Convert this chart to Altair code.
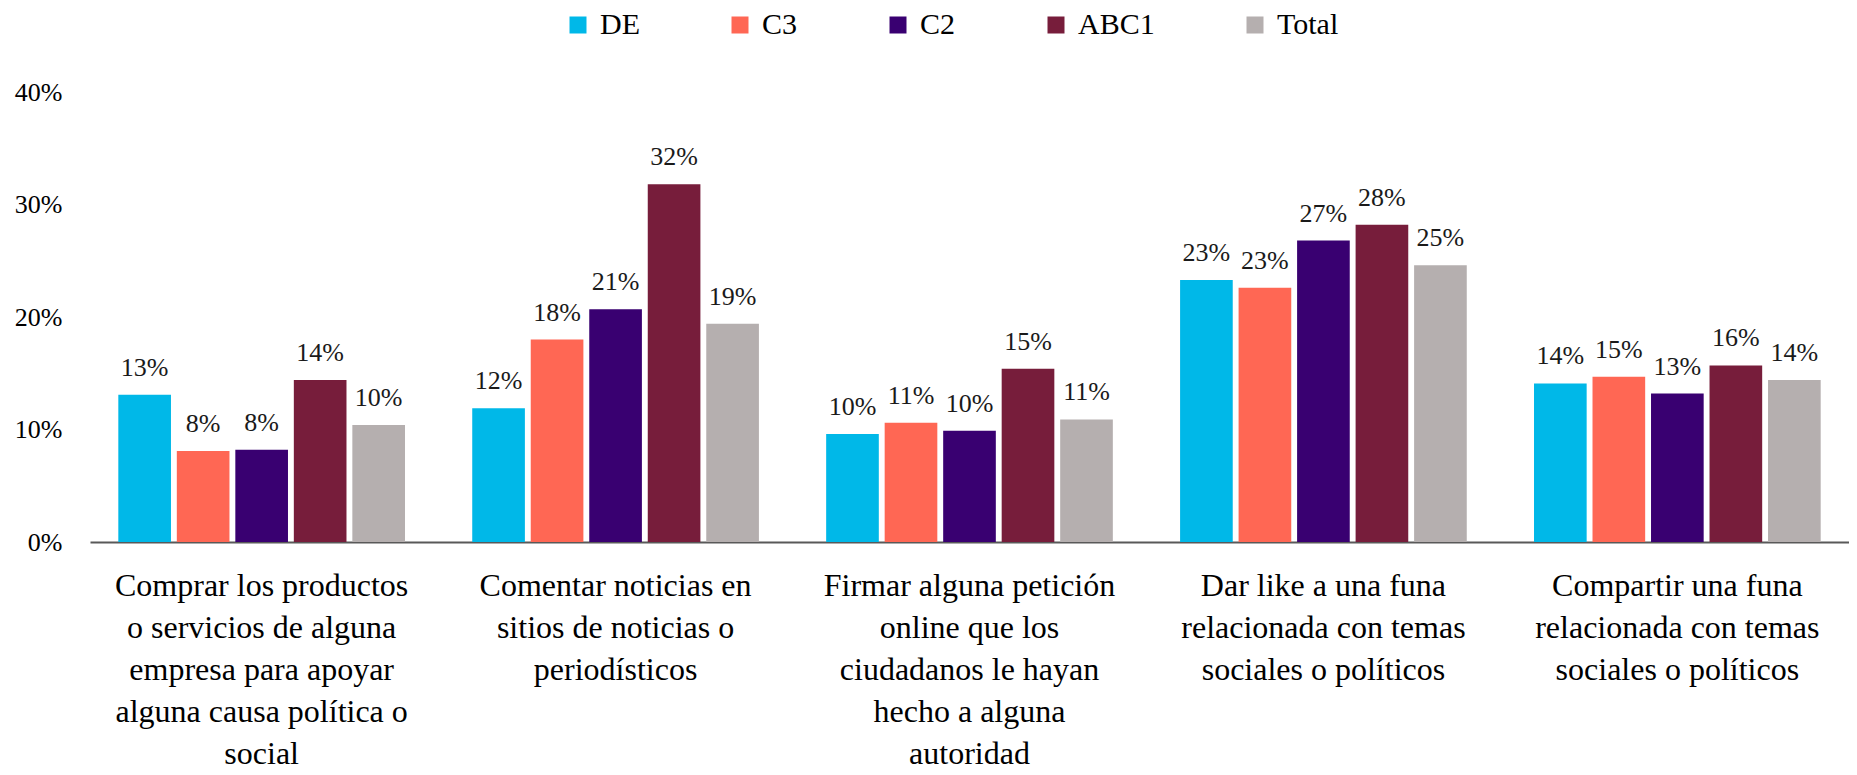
import altair as alt
import pandas as pd

categories = [
    "Comprar los productos|o servicios de alguna|empresa para apoyar|alguna causa política o|social",
    "Comentar noticias en|sitios de noticias o|periodísticos",
    "Firmar alguna petición|online que los|ciudadanos le hayan|hecho a alguna|autoridad",
    "Dar like a una funa|relacionada con temas|sociales o políticos",
    "Compartir una funa|relacionada con temas|sociales o políticos",
]
series = ["DE", "C3", "C2", "ABC1", "Total"]
de = [0.131, 0.119, 0.096, 0.233, 0.141]
c3 = [0.081, 0.180, 0.106, 0.226, 0.147]
c2 = [0.082, 0.207, 0.099, 0.268, 0.132]
abc1 = [0.144, 0.318, 0.154, 0.282, 0.157]
total = [0.104, 0.194, 0.109, 0.246, 0.144]
colors = ["#00B8E8", "#FF6754", "#390071", "#771D3B", "#B5AFAF"]

rows = []
for s, vals in zip(series, [de, c3, c2, abc1, total]):
    for c, v in zip(categories, vals):
        rows.append({"categoria": c, "grupo": s, "valor": v})
df = pd.DataFrame(rows)

FONT = "Liberation Serif"

x_enc = alt.X(
    "categoria:N",
    sort=categories,
    title=None,
    scale=alt.Scale(paddingInner=0.19, paddingOuter=0.08),
    axis=alt.Axis(
        labelExpr="split(datum.label, '|')",
        labelAngle=0,
        labelFont=FONT,
        labelFontSize=32,
        labelLineHeight=42,
        labelColor="#000000",
        labelBaseline="top",
        labelPadding=28,
        labelLimit=600,
        ticks=False,
        domainColor="#595959",
        domainWidth=2,
        grid=False,
    ),
)
xoff_enc = alt.XOffset(
    "grupo:N", sort=series, scale=alt.Scale(paddingInner=0.1, paddingOuter=0)
)
y_enc = alt.Y(
    "valor:Q",
    title=None,
    scale=alt.Scale(domain=[0, 0.4], nice=False),
    axis=alt.Axis(
        values=[0, 0.1, 0.2, 0.3, 0.4],
        format=".0%",
        labelFont=FONT,
        labelFontSize=26,
        labelColor="#000000",
        labelPadding=28,
        ticks=False,
        domain=False,
        grid=False,
    ),
)

bars = alt.Chart(df).mark_bar().encode(
    x=x_enc,
    xOffset=xoff_enc,
    y=y_enc,
    color=alt.Color(
        "grupo:N",
        sort=series,
        scale=alt.Scale(domain=series, range=colors),
        legend=alt.Legend(
            title=None,
            orient="none",
            direction="horizontal",
            columns=5,
            legendX=473,
            legendY=-82,
            symbolType="square",
            symbolSize=289,
            symbolStrokeWidth=0,
            labelFont=FONT,
            labelFontSize=30,
            labelColor="#000000",
            labelOffset=7,
            columnPadding=85,
            padding=0,
        ),
    ),
)

labels = alt.Chart(df).mark_text(
    font=FONT, fontSize=26, color="#1a1a1a", baseline="alphabetic", dy=-19
).encode(
    x=alt.X("categoria:N", sort=categories),
    xOffset=alt.XOffset("grupo:N", sort=series),
    y=alt.Y("valor:Q"),
    text=alt.Text("valor:Q", format=".0%"),
)

chart = (
    alt.layer(bars, labels)
    .properties(width=1759, height=450, padding={"left": 6, "top": 2, "right": 0, "bottom": 0})
    .configure_view(stroke=None)
)

chart.save("out.html", embed_options={"renderer": "svg", "actions": False})
